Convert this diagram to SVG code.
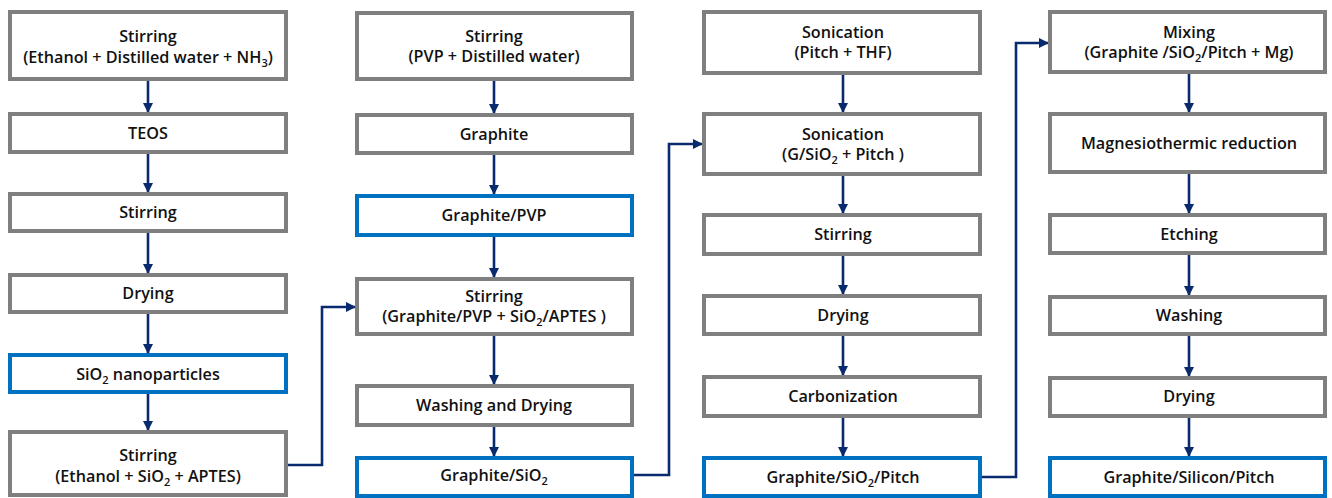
<svg xmlns="http://www.w3.org/2000/svg" width="1332" height="498" viewBox="0 0 1332 498">
<defs>
<style>
.g{fill:#fff;stroke:#7f7f7f;stroke-width:4}
.b{fill:#fff;stroke:#0070c0;stroke-width:4}
text{font-family:"Open Sans","Noto Sans","Liberation Sans",sans-serif;font-weight:600;font-size:16.2px;fill:#111;text-anchor:middle}
.sub{font-size:11px}
.c{fill:none;stroke:#0a2a6e;stroke-width:2.6}
</style>
<marker id="ah" markerWidth="10" markerHeight="10" refX="9" refY="5" orient="auto" markerUnits="userSpaceOnUse">
<path d="M0,0 L10,5 L0,10 Z" fill="#0a2a6e"/>
</marker>
</defs>
<rect width="1332" height="498" fill="#fff"/>

<g id="connectors">
<line class="c" x1="148" y1="81" x2="148" y2="112" marker-end="url(#ah)"/>
<line class="c" x1="148" y1="154" x2="148" y2="192" marker-end="url(#ah)"/>
<line class="c" x1="148" y1="233" x2="148" y2="273" marker-end="url(#ah)"/>
<line class="c" x1="148" y1="314" x2="148" y2="353" marker-end="url(#ah)"/>
<line class="c" x1="148" y1="394" x2="148" y2="430" marker-end="url(#ah)"/>
<polyline class="c" points="288,465 322,465 322,307 355,307" marker-end="url(#ah)"/>
<line class="c" x1="494" y1="81" x2="494" y2="113" marker-end="url(#ah)"/>
<line class="c" x1="494" y1="155" x2="494" y2="194" marker-end="url(#ah)"/>
<line class="c" x1="494" y1="237" x2="494" y2="277" marker-end="url(#ah)"/>
<line class="c" x1="494" y1="336" x2="494" y2="384" marker-end="url(#ah)"/>
<line class="c" x1="494" y1="427" x2="494" y2="456" marker-end="url(#ah)"/>
<polyline class="c" points="634,475 669,475 669,144 702,144" marker-end="url(#ah)"/>
<line class="c" x1="843" y1="75" x2="843" y2="112" marker-end="url(#ah)"/>
<line class="c" x1="843" y1="176" x2="843" y2="213" marker-end="url(#ah)"/>
<line class="c" x1="843" y1="256" x2="843" y2="294" marker-end="url(#ah)"/>
<line class="c" x1="843" y1="336" x2="843" y2="375" marker-end="url(#ah)"/>
<line class="c" x1="843" y1="418" x2="843" y2="456" marker-end="url(#ah)"/>
<polyline class="c" points="982,477 1016,477 1016,43 1048,43" marker-end="url(#ah)"/>
<line class="c" x1="1189" y1="74" x2="1189" y2="112" marker-end="url(#ah)"/>
<line class="c" x1="1189" y1="174" x2="1189" y2="213" marker-end="url(#ah)"/>
<line class="c" x1="1189" y1="255" x2="1189" y2="295" marker-end="url(#ah)"/>
<line class="c" x1="1189" y1="336" x2="1189" y2="376" marker-end="url(#ah)"/>
<line class="c" x1="1189" y1="418" x2="1189" y2="456" marker-end="url(#ah)"/>
</g>

<g id="c1n1"><rect class="g" x="10" y="12" width="276" height="67"/>
<text x="148" y="42">Stirring</text>
<text x="148" y="63">(Ethanol + Distilled water + NH<tspan class="sub" dy="4">3</tspan><tspan dy="-4">)</tspan></text></g>
<g id="c1n2"><rect class="g" x="10" y="114" width="276" height="38"/><text x="148" y="139">TEOS</text></g>
<g id="c1n3"><rect class="g" x="10" y="194" width="276" height="37"/><text x="148" y="218">Stirring</text></g>
<g id="c1n4"><rect class="g" x="10" y="275" width="276" height="37"/><text x="148" y="299">Drying</text></g>
<g id="c1n5"><rect class="b" x="10" y="355" width="276" height="37"/><text x="148" y="380">SiO<tspan class="sub" dy="4">2</tspan><tspan dy="-4"> nanoparticles</tspan></text></g>
<g id="c1n6"><rect class="g" x="10" y="432" width="276" height="63"/>
<text x="148" y="461">Stirring</text>
<text x="148" y="482">(Ethanol + SiO<tspan class="sub" dy="4">2</tspan><tspan dy="-4"> + APTES)</tspan></text></g>

<g id="c2n1"><rect class="g" x="357" y="13" width="275" height="66"/>
<text x="494" y="42">Stirring</text>
<text x="494" y="62">(PVP + Distilled water)</text></g>
<g id="c2n2"><rect class="g" x="357" y="115" width="275" height="38"/><text x="494" y="140">Graphite</text></g>
<g id="c2n3"><rect class="b" x="357" y="196" width="275" height="39"/><text x="494" y="221">Graphite/PVP</text></g>
<g id="c2n4"><rect class="g" x="357" y="279" width="275" height="55"/>
<text x="494" y="302">Stirring</text>
<text x="494" y="322">(Graphite/PVP + SiO<tspan class="sub" dy="4">2</tspan><tspan dy="-4">/APTES )</tspan></text></g>
<g id="c2n5"><rect class="g" x="357" y="386" width="275" height="39"/><text x="494" y="411">Washing and Drying</text></g>
<g id="c2n6"><rect class="b" x="357" y="458" width="275" height="38"/><text x="494" y="481">Graphite/SiO<tspan class="sub" dy="4">2</tspan></text></g>

<g id="c3n1"><rect class="g" x="704" y="12" width="276" height="61"/>
<text x="843" y="38">Sonication</text>
<text x="843" y="58">(Pitch + THF)</text></g>
<g id="c3n2"><rect class="g" x="704" y="114" width="276" height="60"/>
<text x="843" y="140">Sonication</text>
<text x="843" y="160">(G/SiO<tspan class="sub" dy="4">2</tspan><tspan dy="-4"> + Pitch )</tspan></text></g>
<g id="c3n3"><rect class="g" x="704" y="215" width="276" height="39"/><text x="843" y="240">Stirring</text></g>
<g id="c3n4"><rect class="g" x="704" y="296" width="276" height="38"/><text x="843" y="321">Drying</text></g>
<g id="c3n5"><rect class="g" x="704" y="377" width="276" height="39"/><text x="843" y="402">Carbonization</text></g>
<g id="c3n6"><rect class="b" x="704" y="458" width="276" height="38"/><text x="843" y="483">Graphite/SiO<tspan class="sub" dy="4">2</tspan><tspan dy="-4">/Pitch</tspan></text></g>

<g id="c4n1"><rect class="g" x="1050" y="12" width="275" height="60"/>
<text x="1189" y="38">Mixing</text>
<text x="1189" y="58">(Graphite /SiO<tspan class="sub" dy="4">2</tspan><tspan dy="-4">/Pitch + Mg)</tspan></text></g>
<g id="c4n2"><rect class="g" x="1050" y="114" width="275" height="58"/><text x="1189" y="149">Magnesiothermic reduction</text></g>
<g id="c4n3"><rect class="g" x="1050" y="215" width="275" height="38"/><text x="1189" y="240">Etching</text></g>
<g id="c4n4"><rect class="g" x="1050" y="297" width="275" height="37"/><text x="1189" y="321">Washing</text></g>
<g id="c4n5"><rect class="g" x="1050" y="378" width="275" height="38"/><text x="1189" y="402">Drying</text></g>
<g id="c4n6"><rect class="b" x="1050" y="458" width="275" height="38"/><text x="1189" y="483">Graphite/Silicon/Pitch</text></g>
</svg>
